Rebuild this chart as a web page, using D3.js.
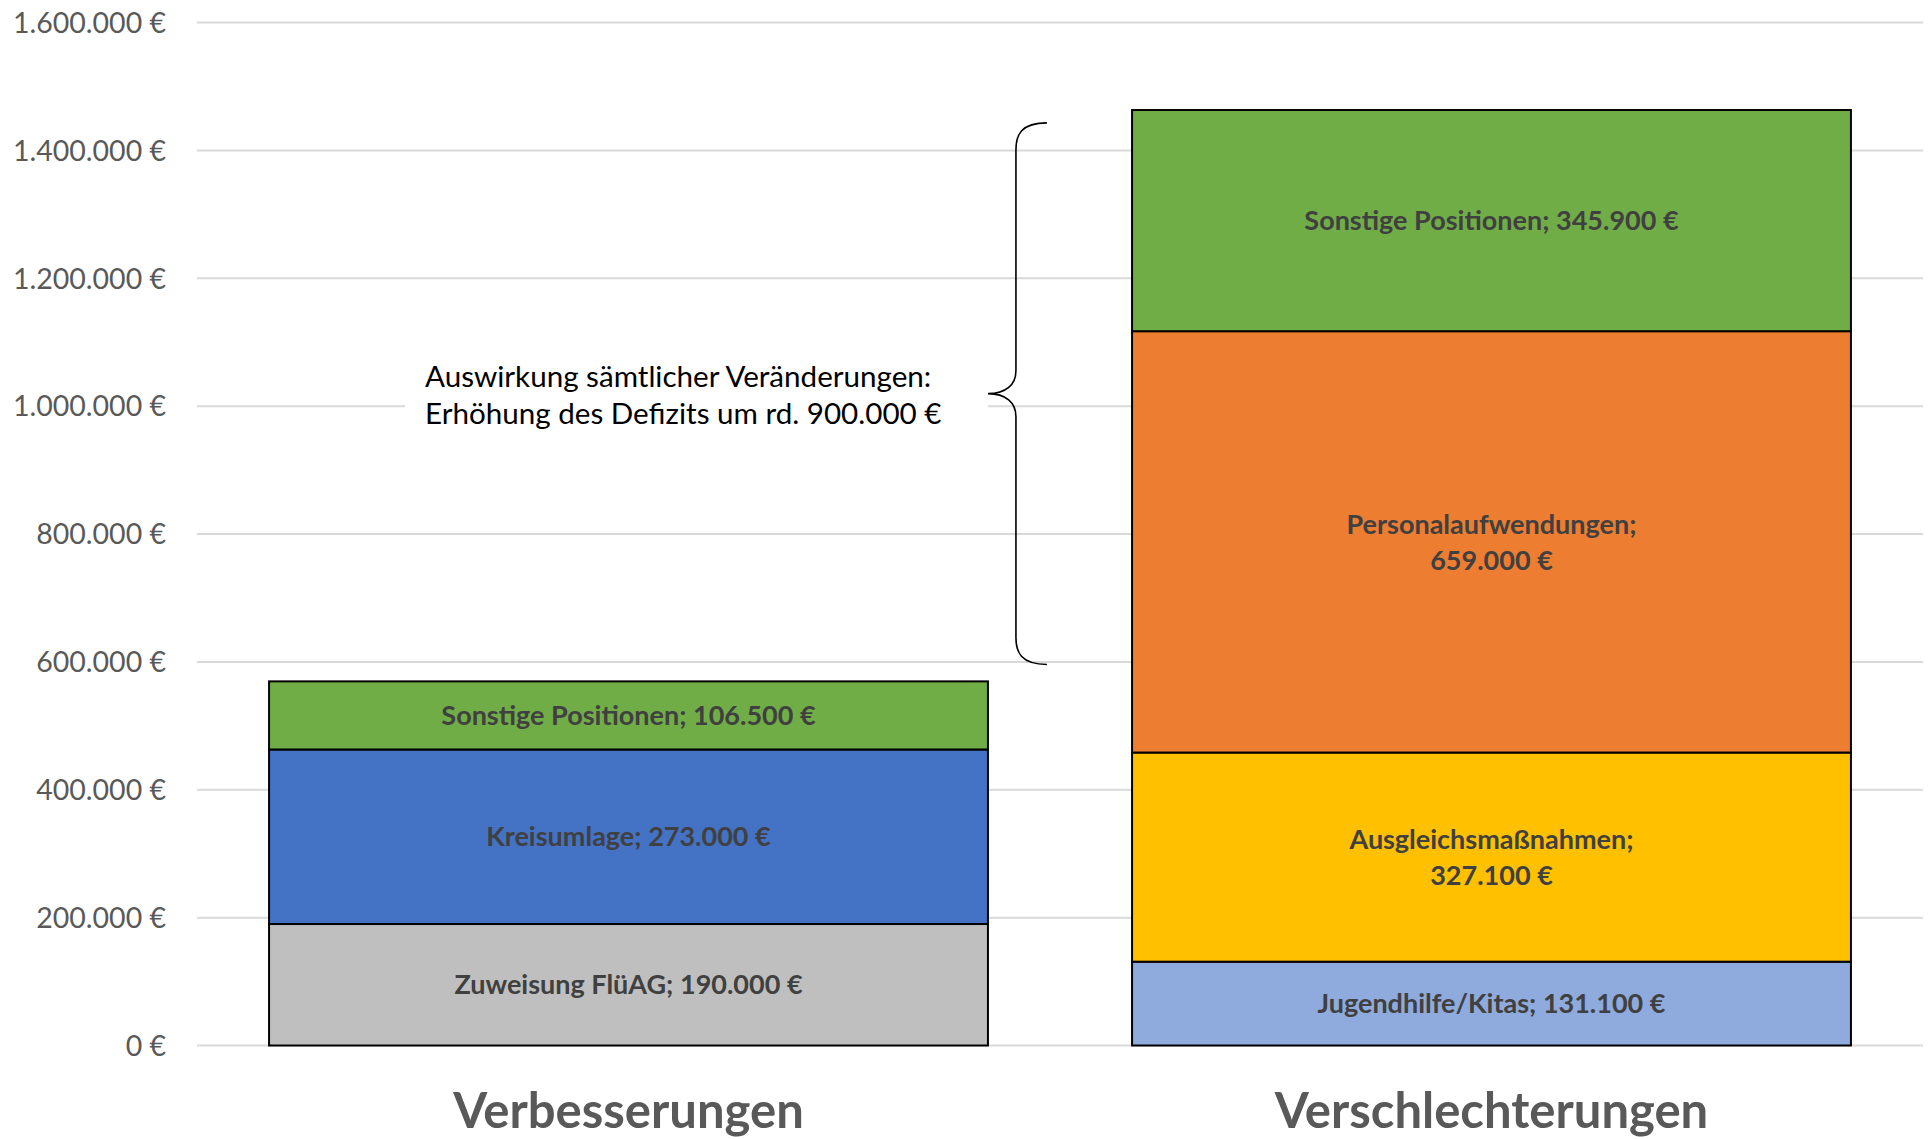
<!DOCTYPE html>
<html>
<head>
<meta charset="utf-8">
<script src="https://cdn.jsdelivr.net/npm/d3@7"></script>
<style>
  html, body { margin: 0; padding: 0; background: #fff; }
  svg { display: block; font-family: Lato, "Open Sans", sans-serif; }
</style>
</head>
<body>
<div id="chart"></div>
<script>
// chart data
const categories = ["Verbesserungen", "Verschlechterungen"];

const verbNames = ["Zuweisung FlüAG", "Kreisumlage", "Sonstige Positionen"];
const verbValues = [190000, 273000, 106500];
const verbColors = ["#BFBFBF", "#4472C4", "#70AD47"];

const verschNames = ["Jugendhilfe/Kitas", "Ausgleichsmaßnahmen", "Personalaufwendungen", "Sonstige Positionen"];
const verschValues = [131100, 327100, 659000, 345900];
const verschColors = ["#8FAADC", "#FFC000", "#ED7D31", "#70AD47"];

// labels that wrap after the semicolon
const wrapped = ["Ausgleichsmaßnahmen", "Personalaufwendungen"];

const yTicks = [0, 200000, 400000, 600000, 800000, 1000000, 1200000, 1400000, 1600000];

const braceRange = [596000, 1443000];
const annotationLines = ["Auswirkung sämtlicher Veränderungen:", "Erhöhung des Defizits um rd. 900.000 €"];

const width = 1930;
const height = 1139;

const margin = ({
    top: 22.5,
    right: 7,
    bottom: 93.5,
    left: 197
});

const de = d3.formatLocale({
    decimal: ",",
    thousands: ".",
    grouping: [3],
    currency: ["", " €"]
});
const euro = v => de.format(",.0f")(v) + " €";

// stack segments per category
function stackUp(names, values, colors, cat) {
    let acc = 0;
    return names.map((n, i) => {
        const seg = { cat, name: n, value: values[i], color: colors[i], y0: acc, y1: acc + values[i] };
        acc += values[i];
        return seg;
    });
}
const segments = stackUp(verbNames, verbValues, verbColors, categories[0])
    .concat(stackUp(verschNames, verschValues, verschColors, categories[1]));

let svg = d3.select("#chart")
    .append("svg")
    .attr("width", width)
    .attr("height", height);

const x = d3.scaleBand()
    .domain(categories)
    .range([margin.left, width - margin.right])
    .paddingInner(0.167)
    .paddingOuter(0.0835);

const y = d3.scaleLinear()
    .domain([0, 1600000])
    .range([height - margin.bottom, margin.top]);

// gridlines
svg.append("g")
    .selectAll("line")
    .data(yTicks)
    .join("line")
    .attr("x1", margin.left)
    .attr("x2", width - margin.right)
    .attr("y1", d => y(d))
    .attr("y2", d => y(d))
    .attr("stroke", "#D9D9D9")
    .attr("stroke-width", 2);

// y axis labels
svg.append("g")
    .selectAll("text")
    .data(yTicks)
    .join("text")
    .attr("x", margin.left - 31)
    .attr("y", d => y(d))
    .attr("dy", "0.36em")
    .attr("text-anchor", "end")
    .attr("fill", "#595959")
    .attr("font-size", 28.5)
    .text(d => euro(d));

// bars
svg.append("g")
    .selectAll("rect")
    .data(segments)
    .join("rect")
    .attr("x", d => x(d.cat))
    .attr("width", x.bandwidth())
    .attr("y", d => y(d.y1))
    .attr("height", d => y(d.y0) - y(d.y1))
    .attr("fill", d => d.color)
    .attr("stroke", "#000")
    .attr("stroke-width", 2);

// segment labels
const labels = svg.append("g")
    .attr("font-size", 27)
    .attr("font-weight", "bold")
    .attr("fill", "#404040")
    .attr("text-anchor", "middle")
    .selectAll("text")
    .data(segments)
    .join("text")
    .attr("x", d => x(d.cat) + x.bandwidth() / 2)
    .attr("y", d => y((d.y0 + d.y1) / 2));

labels.each(function(d) {
    const t = d3.select(this);
    if (wrapped.includes(d.name)) {
        t.append("tspan").attr("x", x(d.cat) + x.bandwidth() / 2).attr("dy", "-0.3em").text(d.name + ";");
        t.append("tspan").attr("x", x(d.cat) + x.bandwidth() / 2).attr("dy", "1.33em").text(euro(d.value));
    } else {
        t.attr("dy", "0.36em").text(d.name + "; " + euro(d.value));
    }
});

// category labels
svg.append("g")
    .selectAll("text")
    .data(categories)
    .join("text")
    .attr("x", d => x(d) + x.bandwidth() / 2)
    .attr("y", height - 11)
    .attr("text-anchor", "middle")
    .attr("fill", "#595959")
    .attr("font-weight", "bold")
    .attr("font-size", 49)
    .text(d => d);

// annotation: white box, text and curly brace
const tipX = x(categories[0]) + x.bandwidth();
const stemX = tipX + 28;
const endX = tipX + 59;
const bTop = y(braceRange[1]);
const bBot = y(braceRange[0]);
const bMid = (bTop + bBot) / 2;

svg.append("rect")
    .attr("x", 405)
    .attr("y", bMid - 50)
    .attr("width", tipX - 405)
    .attr("height", 96)
    .attr("fill", "#fff");

svg.append("g")
    .selectAll("text")
    .data(annotationLines)
    .join("text")
    .attr("x", 425)
    .attr("y", (d, i) => bMid - 7 + i * 37)
    .attr("fill", "#000")
    .attr("font-size", 29.6)
    .text(d => d);

const p = d3.path();
p.moveTo(endX, bTop);
p.bezierCurveTo(stemX + 5, bTop, stemX, bTop + 12, stemX, bTop + 27);
p.lineTo(stemX, bMid - 23);
p.bezierCurveTo(stemX, bMid - 9, stemX - 10, bMid, tipX, bMid);
p.bezierCurveTo(stemX - 10, bMid, stemX, bMid + 9, stemX, bMid + 23);
p.lineTo(stemX, bBot - 27);
p.bezierCurveTo(stemX, bBot - 12, stemX + 5, bBot, endX, bBot);

svg.append("path")
    .attr("d", p.toString())
    .attr("fill", "none")
    .attr("stroke", "#000")
    .attr("stroke-width", 1.6);
</script>
</body>
</html>
